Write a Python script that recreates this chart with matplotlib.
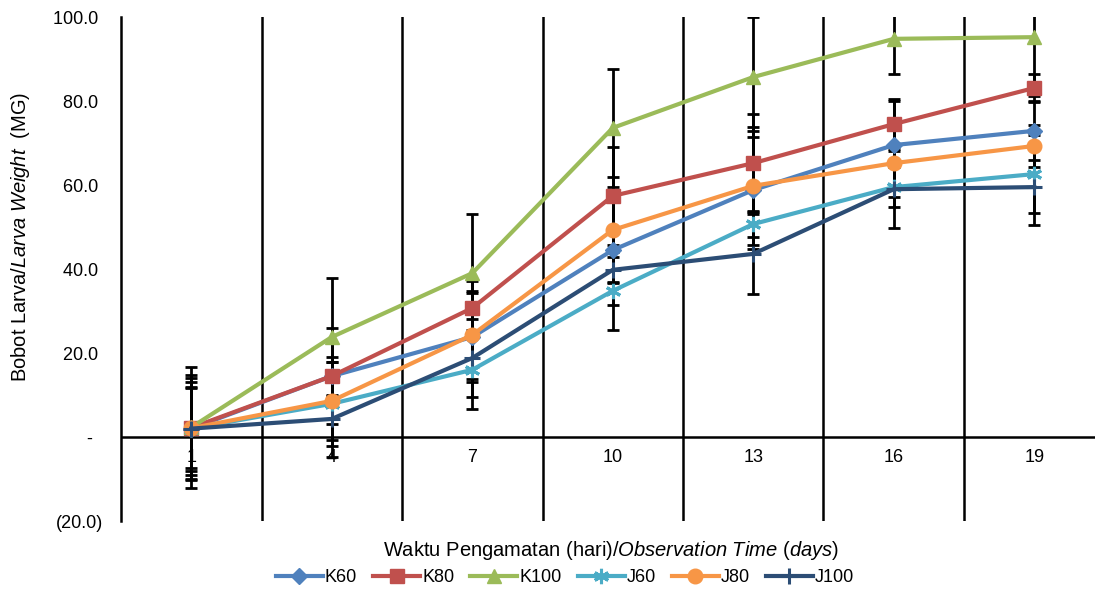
import numpy as np
import matplotlib
matplotlib.use('Agg')
import matplotlib.pyplot as plt

plt.rcParams['font.family'] = ['Liberation Sans', 'DejaVu Sans']
plt.rcParams['mathtext.fontset'] = 'custom'
plt.rcParams['mathtext.rm'] = 'Liberation Sans'
plt.rcParams['mathtext.it'] = 'Liberation Sans:italic'

# observation days (category axis)
days = ['1', '4', '7', '10', '13', '16', '19']

# mean larva weight (mg) per treatment
k60 = [2.0, 14.5, 23.8, 44.5, 58.8, 69.5, 72.9]
k80 = [2.2, 14.5, 30.7, 57.4, 65.2, 74.5, 83.1]
k100 = [2.3, 23.8, 39.0, 73.6, 85.7, 94.8, 95.2]
j60 = [2.0, 7.9, 16.0, 34.8, 50.7, 59.5, 62.6]
j80 = [2.1, 8.6, 24.3, 49.3, 59.8, 65.2, 69.3]
j100 = [2.0, 4.3, 18.8, 39.8, 43.6, 59.0, 59.5]

# error bar sizes
k60_err = [12.0, 4.6, 10.6, 13.0, 14.0, 10.5, 7.0]
k80_err = [12.5, 11.5, 6.4, 11.6, 11.7, 6.0, 3.3]
k100_err = [14.4, 14.0, 14.2, 14.0, 14.2, 8.4, 14.0]
j60_err = [10.0, 10.0, 9.4, 9.3, 3.0, 4.7, 9.3]
j80_err = [9.5, 9.2, 10.5, 12.7, 14.0, 8.0, 5.0]
j100_err = [11.0, 9.0, 9.2, 3.0, 9.6, 9.2, 9.0]

y_ticks = [-20, 0, 20, 40, 60, 80, 100]
y_tick_labels = ['(20.0)', '-  ', '20.0 ', '40.0 ', '60.0 ', '80.0 ', '100.0 ']

series = [
    ('K60', k60, k60_err, '#4F81BD', 'D', 8),
    ('K80', k80, k80_err, '#C0504D', 's', 9.5),
    ('K100', k100, k100_err, '#9BBB59', '^', 10.5),
    ('J60', j60, j60_err, '#4BACC6', (6, 2, 0), 11),
    ('J80', j80, j80_err, '#F79646', 'o', 10.5),
    ('J100', j100, j100_err, '#2C4D75', '+', 11),
]

fig = plt.figure(figsize=(10.95, 5.92), dpi=100)
ax = fig.add_axes([121 / 1095, 1 - 521 / 592, 983.5 / 1095, 504 / 592])

x = np.arange(len(days))

for name, vals, errs, color, marker, ms in series:
    ax.errorbar(x, vals, yerr=errs, fmt='none', ecolor='black',
                elinewidth=2.0, capsize=4, capthick=2.0, zorder=2)

for name, vals, errs, color, marker, ms in series:
    ax.plot(x, vals, color=color, linewidth=3, marker=marker,
            markersize=ms, markeredgewidth=2.2 if marker in ['+', (6, 2, 0)] else 1,
            markeredgecolor=color, label=name, zorder=3)

ax.set_xlim(-0.5, len(days) - 0.5)
ax.set_ylim(-20, 100)

# vertical lines between categories
for b in np.arange(0.5, len(days) - 0.5, 1):
    ax.axvline(b, color='black', linewidth=1.8, zorder=1)
ax.axhline(0, color='black', linewidth=1.8, zorder=1)

for s in ['top', 'right', 'bottom']:
    ax.spines[s].set_visible(False)
ax.spines['left'].set_linewidth(1.8)

ax.set_xticks([])
ax.set_yticks(y_ticks)
ax.set_yticklabels(y_tick_labels, fontsize=13)
ax.tick_params(axis='y', length=0, pad=13)

# category labels sit on the zero line
for xi, lbl in zip(x, days):
    ax.annotate(lbl, (xi, 0), xytext=(0, -9), textcoords='offset points',
                ha='center', va='top', fontsize=13)

fig.text(21 / 1095, 1 - 237 / 592, r'Bobot Larva/$\it{Larva\ Weight}$  (MG)',
         rotation=90, ha='center', va='center', fontsize=14.5)
fig.text(611 / 1095, 1 - 551 / 592,
         r'Waktu Pengamatan (hari)/$\it{Observation\ Time}$ ($\it{days}$)',
         ha='center', va='center', fontsize=14.5)

fig.legend(loc='center', bbox_to_anchor=(565 / 1095, 1 - 578 / 592), ncol=6,
           frameon=False, fontsize=13, handlelength=2.6, columnspacing=0.9,
           handletextpad=0.1, borderaxespad=0)

fig.savefig('out.png', dpi=100)
